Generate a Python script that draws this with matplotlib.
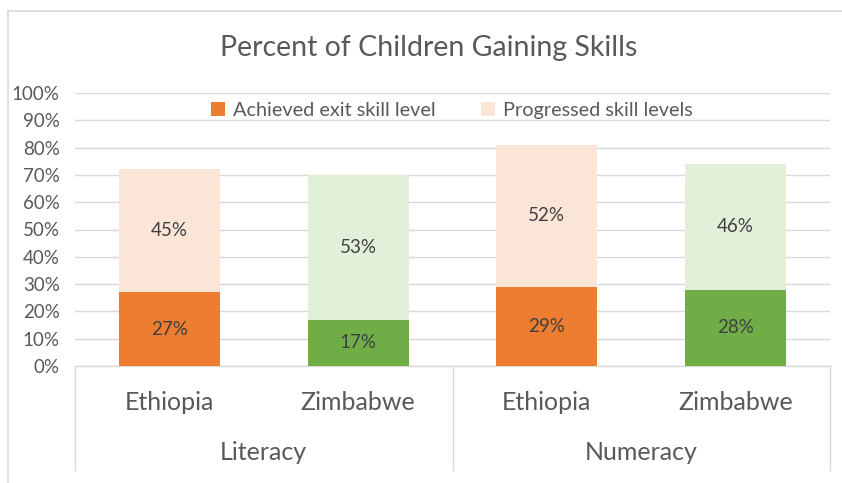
import matplotlib
matplotlib.use("Agg")
import matplotlib.pyplot as plt
import numpy as np

plt.rcParams['font.family'] = ['Lato', 'DejaVu Sans']

countries = ["Ethiopia", "Zimbabwe", "Ethiopia", "Zimbabwe"]
groups = ["Literacy", "Numeracy"]
series = ["Achieved exit skill level", "Progressed skill levels"]
achieved = [27, 17, 29, 28]
progressed = [45, 53, 52, 46]

dark = ["#ED7D31", "#70AD47", "#ED7D31", "#70AD47"]
light = ["#FBE5D6", "#E2F0D9", "#FBE5D6", "#E2F0D9"]
txt = "#595959"

fig = plt.figure(figsize=(8.42, 4.83), dpi=100)
W, H = 842, 483
ax = fig.add_axes([75 / W, 1 - 366 / H, 755 / W, 273 / H])

x = np.arange(len(countries))
bw = 0.535
b1 = ax.bar(x, achieved, bw, color=dark, zorder=3)
b2 = ax.bar(x, progressed, bw, bottom=achieved, color=light, zorder=3)

# data labels
for i in range(len(x)):
    ax.text(x[i], achieved[i] / 2, f"{achieved[i]}%", ha="center", va="center",
            fontsize=13.5, color="#404040", zorder=4)
    ax.text(x[i], achieved[i] + progressed[i] / 2, f"{progressed[i]}%", ha="center",
            va="center", fontsize=13.5, color="#404040", zorder=4)

ax.set_xlim(-0.5, 3.5)
ax.set_ylim(0, 100)
ax.set_yticks(np.arange(0, 101, 10))
ax.set_yticklabels([f"{v}%" for v in range(0, 101, 10)], color=txt, fontsize=13.5)
ax.yaxis.grid(True, color="#D9D9D9", linewidth=1, zorder=0)
ax.tick_params(axis="y", length=0, pad=11)
ax.set_xticks([])
for s in ax.spines.values():
    s.set_visible(False)

# category axis box
trans = ax.get_xaxis_transform()
ax.plot([-0.5, 3.5], [0, 0], color="#D9D9D9", lw=1, transform=trans, clip_on=False)
bot = (366 - 470) / 273
for xv in [-0.5, 1.5, 3.5]:
    ax.plot([xv, xv], [0, bot], color="#D9D9D9", lw=1, transform=trans, clip_on=False)

for i, c in enumerate(countries):
    ax.text(x[i], (366 - 402) / 273, c, ha="center", va="center", fontsize=18,
            color=txt, transform=trans)
for j, g in enumerate(groups):
    ax.text(2 * j + 0.5, (366 - 452) / 273, g, ha="center", va="center", fontsize=18,
            color=txt, transform=trans)

leg = ax.legend([b1[0], b2[0]], series, loc="center", bbox_to_anchor=(452 / W, 1 - 110 / H),
                bbox_transform=fig.transFigure, ncol=2, frameon=False, fontsize=14.3,
                handlelength=0.7, handleheight=0.7, columnspacing=2.3, handletextpad=0.4,
                borderpad=0.1)
for t in leg.get_texts():
    t.set_color(txt)

fig.text(429 / W, 1 - 48 / H, "Percent of Children Gaining Skills", ha="center", va="center",
         fontsize=20.5, color=txt)

# outer chart border
fig.add_artist(plt.Line2D([8 / W, 8 / W], [1 - 11 / H, 0], color="#D9D9D9", lw=1.2))
fig.add_artist(plt.Line2D([8 / W, 1], [1 - 11 / H, 1 - 11 / H], color="#D9D9D9", lw=1.2))

fig.savefig("out.png", dpi=100)
